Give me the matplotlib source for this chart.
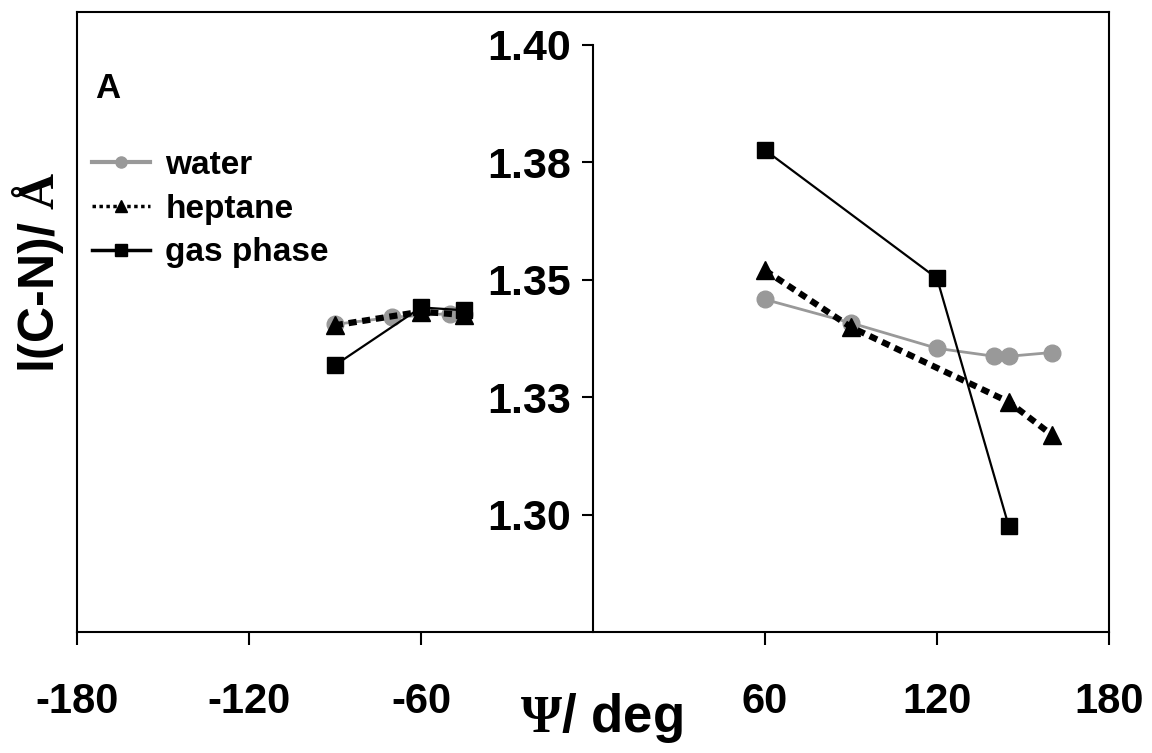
import numpy as np
import matplotlib
matplotlib.use("Agg")
import matplotlib.pyplot as plt
from matplotlib.lines import Line2D

plt.rcParams['font.family'] = ['Liberation Sans', 'DejaVu Sans']
plt.rcParams['font.weight'] = 'bold'
plt.rcParams['mathtext.fontset'] = 'custom'
plt.rcParams['mathtext.rm'] = 'Liberation Serif'
plt.rcParams['mathtext.it'] = 'Liberation Serif:italic'
plt.rcParams['mathtext.bf'] = 'Liberation Serif:bold'

# ---- data ----
water_x = [-90, -70, -50, -45, 60, 90, 120, 140, 145, 160]
water_y = [1.3405, 1.3420, 1.3428, 1.3428, 1.3458, 1.3408, 1.3354, 1.3337, 1.3337, 1.3345]
heptane_x = [-90, -60, -45, 60, 90, 145, 160]
heptane_y = [1.3403, 1.3432, 1.3425, 1.3520, 1.3399, 1.3240, 1.3170]
gas_x = [-90, -60, -45, 60, 120, 145]
gas_y = [1.3318, 1.3441, 1.3435, 1.3776, 1.3503, 1.2976]

x_ticks = [-180, -120, -60, 60, 120, 180]
x_ticklabels = ['-180', '-120', '-60', '60', '120', '180']
y_ticks = [1.300, 1.325, 1.350, 1.375, 1.400]
y_ticklabels = ['1.30', '1.33', '1.35', '1.38', '1.40']

GRAY = '#999999'

fig = plt.figure(figsize=(11.52, 7.53), dpi=100)
ax = fig.add_axes([77/1152, 1-632/753, (1109-77)/1152, (632-12)/753])
ax.set_xlim(-180, 180)
ax.set_ylim(1.275, 1.407)


def split_plot(xs, ys, **kw):
    xs = np.asarray(xs, float)
    ys = np.asarray(ys, float)
    for mask in (xs < 0, xs > 0):
        ax.plot(xs[mask], ys[mask], **kw)


split_plot(water_x, water_y, color=GRAY, lw=2.0, marker='o', ms=12,
           mfc=GRAY, mec=GRAY, zorder=3)
split_plot(heptane_x, heptane_y, color='black', lw=4.5, ls=(0, (1.3, 0.9)),
           dash_capstyle='butt', marker='^', ms=13, mfc='black', mec='black', zorder=4)
split_plot(gas_x, gas_y, color='black', lw=1.6, marker='s', ms=12,
           mfc='black', mec='black', zorder=5)

# spines: central y axis at x=0
ax.spines['left'].set_position(('data', 0))
ax.spines['left'].set_bounds(1.275, 1.40)
for s in ax.spines.values():
    s.set_linewidth(1.5)
ax.add_line(Line2D([0, 0], [0, 1], transform=ax.transAxes, color='black', lw=1.5, clip_on=False))

ax.set_xticks(x_ticks)
ax.set_xticklabels(x_ticklabels, fontsize=30, fontweight='bold')
ax.set_yticks(y_ticks)
ax.set_yticklabels(y_ticklabels, fontsize=31, fontweight='bold')
ax.tick_params(axis='x', direction='out', length=9, width=1.5, pad=27)
ax.tick_params(axis='y', direction='out', length=8, width=1.5, pad=8)

# labels
fig.text(601/1152, 1-718/753, r'$\mathrm{\Psi}$/ deg', fontsize=38, fontweight='bold',
         ha='center', va='center')
fig.text(38/1152, 1-272/753, r'l(C-N)/ $\mathrm{Å}$', fontsize=36, fontweight='bold',
         ha='center', va='center', rotation=90)
fig.text(95/1152, 1-88/753, 'A', fontsize=25, fontweight='bold', ha='left', va='center')

handles = [
    Line2D([], [], color=GRAY, lw=3, marker='o', ms=8, mfc=GRAY, mec=GRAY),
    Line2D([], [], color='black', lw=2.5, ls=(0, (1, 1)), marker='^', ms=8, mfc='black', mec='black'),
    Line2D([], [], color='black', lw=2.5, marker='s', ms=8, mfc='black', mec='black'),
]
labels = ['water', 'heptane', 'gas phase']
leg = ax.legend(handles, labels, loc='upper left', bbox_to_anchor=(92/1152, 1-150/753),
                bbox_transform=fig.transFigure, frameon=False, borderpad=0, borderaxespad=0,
                handlelength=1.75, handletextpad=0.45, labelspacing=0.38,
                prop={'size': 24, 'weight': 'bold'})

fig.savefig('out.png', dpi=100)
